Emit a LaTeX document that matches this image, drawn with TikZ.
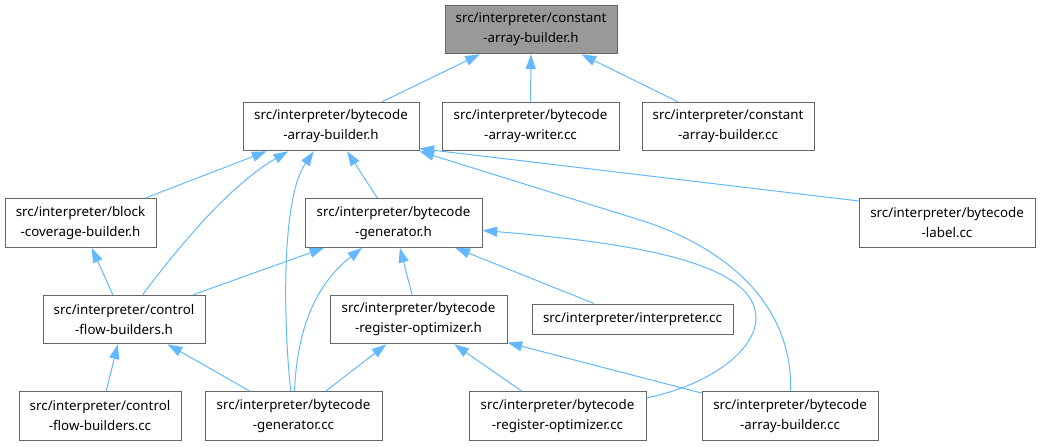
\documentclass[tikz,border=0pt]{standalone}
\usepackage{fontspec}
\setmainfont{Noto Sans}
\usetikzlibrary{arrows.meta}
\definecolor{edgeblue}{RGB}{99,184,255}
\definecolor{boxgray}{RGB}{102,102,102}
\definecolor{topfill}{RGB}{153,153,153}
\begin{document}
\begin{tikzpicture}[x=0.75pt,y=-0.75pt,
  box/.style={draw=boxgray,line width=0.75pt,fill=white,inner sep=0pt,align=center,
    minimum height=36.5pt,font=\fontsize{10}{15}\selectfont},
  edge/.style={draw=edgeblue,line width=0.75pt,-{Triangle[length=11pt,width=7.5pt]}}]
\useasboundingbox (0,0) rectangle (1041,446);
% nodes
\node[box,fill=topfill,minimum width=129pt] (cab) at (531,29.5) {src/interpreter/constant\\-array-builder.h};
\node[box,minimum width=132pt] (bab) at (331,126.5) {src/interpreter/bytecode\\-array-builder.h};
\node[box,minimum width=132.75pt] (wri) at (530.5,126.5) {src/interpreter/bytecode\\-array-writer.cc};
\node[box,minimum width=129pt] (cac) at (728,126.5) {src/interpreter/constant\\-array-builder.cc};
\node[box,minimum width=113.25pt] (blk) at (80.5,223) {src/interpreter/block\\-coverage-builder.h};
\node[box,minimum width=132.75pt] (genh) at (393.5,223) {src/interpreter/bytecode\\-generator.h};
\node[box,minimum width=132pt] (lab) at (947,223) {src/interpreter/bytecode\\-label.cc};
\node[box,minimum width=121.5pt] (cfh) at (124,319.5) {src/interpreter/control\\-flow-builders.h};
\node[box,minimum width=132.75pt] (roph) at (418.5,319.5) {src/interpreter/bytecode\\-register-optimizer.h};
\node[box,minimum width=150.75pt,minimum height=22.5pt] (intp) at (632.5,319) {src/interpreter/interpreter.cc};
\node[box,minimum width=121.5pt] (cfc) at (100,416) {src/interpreter/control\\-flow-builders.cc};
\node[box,minimum width=132.75pt] (genc) at (293.5,416) {src/interpreter/bytecode\\-generator.cc};
\node[box,minimum width=132.75pt] (ropc) at (557.5,416) {src/interpreter/bytecode\\-register-optimizer.cc};
\node[box,minimum width=132pt] (abc) at (790,416) {src/interpreter/bytecode\\-array-builder.cc};
% edges
\draw[edge] (bab) -- (cab);
\draw[edge] (wri) -- (cab);
\draw[edge] (cac) -- (cab);
\draw[edge] (blk) -- (bab);
\draw[edge] (cfh) .. controls (180,245) and (230,185) .. (bab);
\draw[edge] (genc) .. controls (284,330) and (280,200) .. (bab);
\draw[edge] (genh) -- (bab);
\draw[edge] (lab.166) -- (bab.-14);
\draw[edge] (abc) .. controls (793,300) and (720,245) .. (640,220) -- (bab.south east);
\draw[edge] (cfh) -- (genh);
\draw[edge] (genc) .. controls (297,330) and (315,285) .. (genh);
\draw[edge] (roph) -- (genh);
\draw[edge] (intp) -- (genh);
\draw[edge] (ropc) .. controls (710,385) and (756,350) .. (756,318) .. controls (756,260) and (620,242) .. (genh);
\draw[edge] (cfh) -- (blk);
\draw[edge] (cfc) -- (cfh);
\draw[edge] (genc) -- (cfh);
\draw[edge] (genc) -- (roph);
\draw[edge] (ropc) -- (roph);
\draw[edge] (abc) -- (roph);
\end{tikzpicture}
\end{document}
